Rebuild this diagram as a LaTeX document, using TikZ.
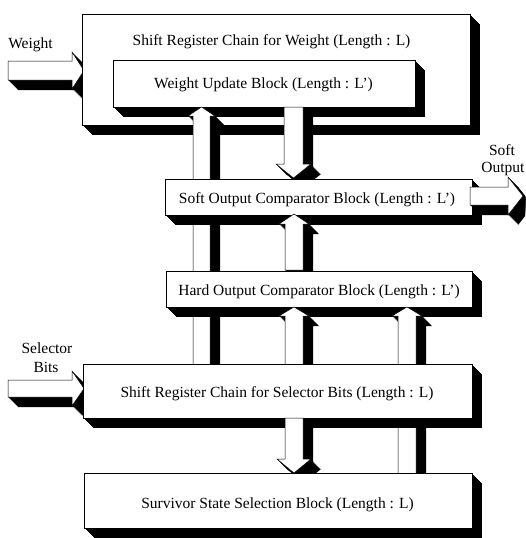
\documentclass[tikz,border=0pt]{standalone}
\usepackage{fontspec}
\setmainfont{Liberation Serif}
\newcommand{\solidshape}[1]{%
  \foreach \t in {0,0.5,...,10}{\fill[black,shift={(\t,\t)}] #1;}%
  \filldraw[face] #1;}
\begin{document}
\begin{tikzpicture}[x=1pt,y=-1pt,
  face/.style={fill=white,draw=black,line width=0.5pt},
  lbl/.style={font=\fontsize{15.5}{18}\selectfont,inner sep=0pt,anchor=base}]
\useasboundingbox (0,0) rectangle (525,538);
\clip (0,0) rectangle (525,538);
% input arrow: Weight
\solidshape{(8,61) -- (72,61) -- (72,52) -- (84,70.5) -- (72,89) -- (72,80) -- (8,80) -- cycle}
% A: shift register chain for weight
\solidshape{(82,14) rectangle (470,125)}
% B: weight update block
\solidshape{(113,60) rectangle (415,107)}
% bus 1: from selector chain up to weight update block
\solidshape{(193,365) -- (193,116) -- (188,116) -- (201.5,107) -- (215,116) -- (210,116) -- (210,365) -- cycle}
% B -> C down arrow
\solidshape{(284,107) -- (284,164) -- (276,164) -- (293.5,178) -- (311,164) -- (303,164) -- (303,107) -- cycle}
% C: soft output comparator
\solidshape{(165,179) rectangle (472,215)}
% soft output arrow
\solidshape{(470,187) -- (508,187) -- (508,177) -- (523,196) -- (508,215) -- (508,205) -- (470,205) -- cycle}
% D -> C up arrow
\solidshape{(285,270) -- (285,224) -- (279,224) -- (294,214) -- (309,224) -- (303,224) -- (303,270) -- cycle}
% D: hard output comparator
\solidshape{(166,271) rectangle (472,307)}
% E -> D up arrow
\solidshape{(285,365) -- (285,316) -- (279,316) -- (294,307) -- (309,316) -- (303,316) -- (303,365) -- cycle}
% bus 3: survivor block up to hard output comparator
\solidshape{(398,474) -- (398,316) -- (392,316) -- (407,307) -- (422,316) -- (416,316) -- (416,474) -- cycle}
% input arrow: Selector Bits
\solidshape{(8,380) -- (72,380) -- (72,371) -- (84,388.5) -- (72,406) -- (72,397) -- (8,397) -- cycle}
% E: shift register chain for selector bits
\solidshape{(83,364) rectangle (472,418)}
% E -> F down arrow
\solidshape{(285,418) -- (285,459) -- (277,459) -- (294,473) -- (311,459) -- (303,459) -- (303,418) -- cycle}
% F: survivor state selection
\solidshape{(84,473) rectangle (472,528)}
% texts
\node[lbl] (tA) at (271.5,45) {Shift Register Chain for Weight (Length : L)};
\node[lbl] (tB) at (263.5,88) {Weight Update Block (Length : L')};
\node[lbl] (tC) at (317,203) {Soft Output Comparator Block (Length : L')};
\node[lbl] (tD) at (319,295) {Hard Output Comparator Block (Length : L')};
\node[lbl] (tE) at (277,397) {Shift Register Chain for Selector Bits (Length : L)};
\node[lbl] (tF) at (277.5,508) {Survivor State Selection Block (Length : L)};
\node[lbl] (lW) at (30.5,48) {Weight};
\node[lbl] (lS1) at (47,353) {Selector};
\node[lbl] (lS2) at (46,372) {Bits};
\node[lbl] (lO1) at (502,155) {Soft};
\node[lbl] (lO2) at (503,172) {Output};
\end{tikzpicture}
\end{document}
